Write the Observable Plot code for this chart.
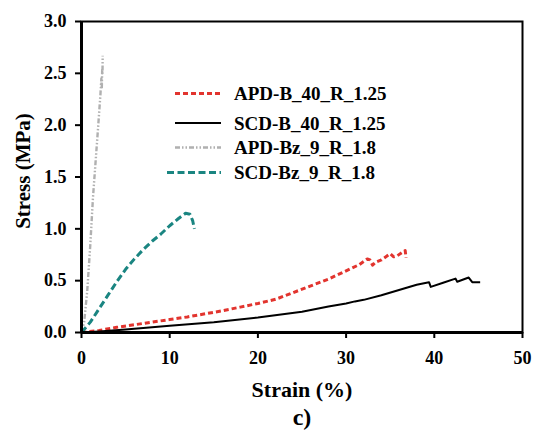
<!DOCTYPE html>
<html><head><meta charset="utf-8">
<script src="https://cdn.jsdelivr.net/npm/d3@7"></script>
<script src="https://cdn.jsdelivr.net/npm/@observablehq/plot@0.6"></script>
<style>
body{margin:0;background:#fff;}
#chart{position:relative;width:538px;height:435px;}
#chart svg, #chart svg text { font-family: "Liberation Serif", "DejaVu Serif", serif !important; font-weight: bold; }
</style>
</head><body><div id="chart"></div>
<script>
// ---- data ----
const seriesNames = ["APD-B_40_R_1.25", "SCD-B_40_R_1.25", "APD-Bz_9_R_1.8", "SCD-Bz_9_R_1.8"];

const apdBStrain = [0,2,4,6,8,10,12,14,16,18,20,22,24,26,28,30,31.5,32.4,32.7,33,33.4,34,35,35.4,35.8,36.5,36.7,36.8];
const apdBStress = [0,0.02,0.05,0.075,0.1,0.125,0.15,0.18,0.21,0.245,0.28,0.32,0.385,0.45,0.515,0.595,0.655,0.71,0.70,0.65,0.68,0.70,0.76,0.73,0.74,0.78,0.79,0.72];

const scdBStrain = [0,2,5,10,15,20,25,28,30,31,32,34,36,38,39.4,39.6,41,42.4,42.6,43.9,44.3,45.2];
const scdBStress = [0,0.01,0.03,0.065,0.1,0.145,0.2,0.25,0.28,0.3,0.315,0.36,0.41,0.46,0.485,0.44,0.48,0.52,0.49,0.53,0.485,0.485];

const apdBzStrain = [0,0.3,0.65,1.0,1.3,1.6,1.9,2.15,2.25,2.3,2.35,2.38,2.4];
const apdBzStress = [0,0.1,0.4,0.85,1.3,1.65,2.0,2.3,2.45,2.35,2.55,2.5,2.67];

const scdBzStrain = [0,1,2,3,4,5,6,7,8,9,10,11,11.8,12.3,12.6,12.8];
const scdBzStress = [0,0.1,0.23,0.36,0.49,0.61,0.71,0.8,0.88,0.95,1.03,1.1,1.15,1.14,1.08,1.0];

const xTicks = [0,10,20,30,40,50];
const yTicks = [0,0.5,1.0,1.5,2.0,2.5,3.0];
const xTitle = "Strain (%)";
const yTitle = "Stress (MPa)";
const caption = "c)";

// ---- styles ----
const colors = {"APD-B_40_R_1.25":"#e2342e","SCD-B_40_R_1.25":"#000000","APD-Bz_9_R_1.8":"#b0b0b0","SCD-Bz_9_R_1.8":"#1a8581"};
const dashes = {"APD-B_40_R_1.25":"5,3","SCD-B_40_R_1.25":"none","APD-Bz_9_R_1.8":"5,2,1.5,2,1.5,2","SCD-Bz_9_R_1.8":"7,3.5"};
const widths = {"APD-B_40_R_1.25":3,"SCD-B_40_R_1.25":2,"APD-Bz_9_R_1.8":2.4,"SCD-Bz_9_R_1.8":3};

const data = [];
function add(name, xs, ys){ xs.forEach((x,i)=>data.push({series:name, strain:x, stress:ys[i]})); }
add(seriesNames[0], apdBStrain, apdBStress);
add(seriesNames[1], scdBStrain, scdBStress);
add(seriesNames[2], apdBzStrain, apdBzStress);
add(seriesNames[3], scdBzStrain, scdBzStress);

const font = "Liberation Serif, DejaVu Serif, serif";

const plot = Plot.plot({
  width:538, height:435, marginLeft:81, marginRight:16, marginTop:21, marginBottom:103,
  style:{fontFamily:font, fontWeight:"bold", fontSize:"18px", background:"#fff", color:"#000", overflow:"visible"},
  x:{domain:[0,50]}, y:{domain:[0,3]},
  marks:[
    Plot.frame({stroke:"#000", strokeWidth:2}),
    ...seriesNames.map(name => Plot.line(data.filter(d=>d.series===name), {
      x:"strain", y:"stress", stroke: colors[name], strokeWidth: widths[name],
      strokeDasharray: dashes[name], strokeLinejoin:"round", strokeLinecap:"butt"})),
    Plot.axisX({ticks:xTicks, tickSize:6, tickPadding:13, label:null, tickFormat:d=>String(d), strokeWidth:2, fontFamily:font}),
    Plot.axisY({ticks:yTicks, tickSize:6, tickPadding:9, label:null, tickFormat:d=>d.toFixed(1), strokeWidth:2, fontFamily:font}),
    Plot.ruleX([0], {stroke:"#000", strokeWidth:3}),
    Plot.ruleY([0], {stroke:"#000", strokeWidth:3}),
    Plot.text([xTitle], {text:d=>d, frameAnchor:"bottom", textAnchor:"middle", lineAnchor:"middle", dy:57, fontSize:22, fontFamily:font}),
    Plot.text([yTitle], {text:d=>d, frameAnchor:"left", textAnchor:"middle", lineAnchor:"middle", rotate:-90, dx:-58, dy:-6, fontSize:21, fontFamily:font}),
    Plot.text([caption], {text:d=>d, frameAnchor:"bottom", textAnchor:"middle", lineAnchor:"middle", dy:85, fontSize:24, fontFamily:font})
  ]
});

// legend
const legendY = [93.5, 123, 147.5, 172.5];
const legendX1 = [175, 175, 175, 167];
const svg = d3.select(plot);
const lg = svg.append("g").attr("font-family", font).attr("font-weight","bold").attr("font-size", 19).attr("text-anchor","start");
seriesNames.forEach((name, i) => {
  lg.append("line").attr("x1", legendX1[i]).attr("x2", 221).attr("y1", legendY[i]).attr("y2", legendY[i])
    .attr("stroke", colors[name]).attr("stroke-width", widths[name])
    .attr("stroke-dasharray", dashes[name]);
  lg.append("text").attr("x", 234).attr("y", legendY[i]).attr("dy", "0.35em").attr("fill","#000").text(name);
});

document.getElementById("chart").appendChild(plot);
</script>
</body></html>
